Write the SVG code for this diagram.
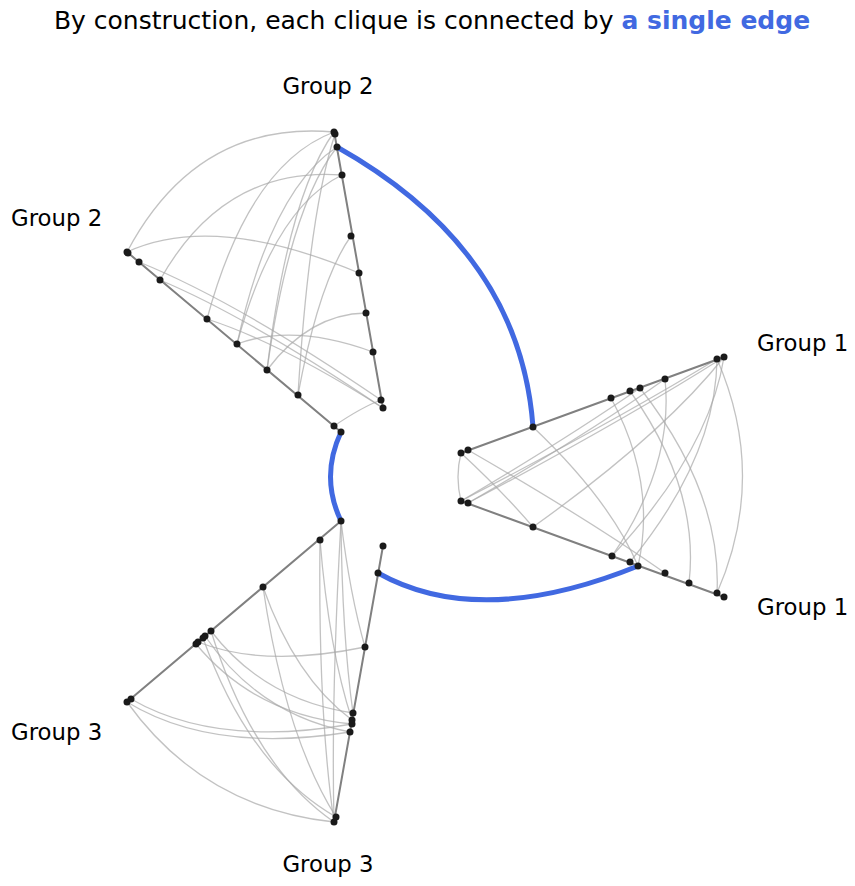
<svg xmlns="http://www.w3.org/2000/svg" width="855" height="886" viewBox="0 0 855 886">
<style>
text{font-family:"DejaVu Sans",sans-serif;font-size:22.8px;fill:#000}
.axis{stroke:#808080;stroke-width:2;fill:none}
.e{stroke:#a8a8a8;stroke-opacity:0.7;stroke-width:1.3;fill:none}
.b{stroke:#4169e1;stroke-width:5;fill:none}
.n circle{fill:#1a1a1a}
</style>
<rect width="855" height="886" fill="#fff"/>
<text x="432" y="29" text-anchor="middle" style="font-size:25px">By construction, each clique is connected by <tspan fill="#4169e1" font-weight="bold">a single edge</tspan></text>
<g id="edges">
<path class="e" d="M334,132Q197,120 127,252"/><path class="e" d="M334,132Q249,164 207,319"/><path class="e" d="M334,132Q288,197 267,370"/><path class="e" d="M335,134Q309,214 298,395"/><path class="e" d="M337,147Q271,190 237,344"/><path class="e" d="M342,175Q224,166 160,280"/><path class="e" d="M383,408Q281,343 207,319"/><path class="e" d="M381,400Q236,301 139,262"/><path class="e" d="M373,352Q294,323 237,344"/><path class="e" d="M366,313Q309,314 267,370"/><path class="e" d="M359,273Q214,212 127,252"/><path class="e" d="M383,408Q250,318 160,280"/><path class="e" d="M351,236Q319,281 298,395"/><path class="e" d="M381,400Q362,407 334,426"/><path class="e" d="M337,147Q290,207 267,370"/><path class="e" d="M342,175Q274,208 237,344"/>
<path class="e" d="M717,359Q768,476 717,593"/><path class="e" d="M724,357Q623,421 468,503"/><path class="e" d="M717,359Q615,421 461,501"/><path class="e" d="M665,379Q588,434 468,503"/><path class="e" d="M640,388Q568,438 461,501"/><path class="e" d="M717,359Q716,457 630,562"/><path class="e" d="M611,398Q657,483 638,566"/><path class="e" d="M468,450Q588,519 665,573"/><path class="e" d="M461,453Q504,493 533,527"/><path class="e" d="M724,357Q662,435 533,527"/><path class="e" d="M630,391Q700,489 689,583"/><path class="e" d="M665,379Q674,466 612,556"/><path class="e" d="M533,427Q610,500 638,566"/><path class="e" d="M461,453Q455,477 461,501"/><path class="e" d="M724,357Q709,452 612,556"/><path class="e" d="M640,388Q722,493 717,593"/>
<path class="e" d="M341,521Q331,700 334,822"/><path class="e" d="M320,540Q329,650 352,720"/><path class="e" d="M263,587Q285,736 336,817"/><path class="e" d="M211,631Q264,700 353,713"/><path class="e" d="M205,636Q259,715 350,732"/><path class="e" d="M198,642Q264,668 365,647"/><path class="e" d="M131,699Q216,748 352,724"/><path class="e" d="M127,702Q203,808 334,822"/><path class="e" d="M263,587Q295,678 352,720"/><path class="e" d="M320,540Q318,711 334,822"/><path class="e" d="M203,638Q249,767 336,817"/><path class="e" d="M341,521Q350,595 365,647"/><path class="e" d="M196,644Q255,715 352,724"/><path class="e" d="M127,702Q212,754 350,732"/><path class="e" d="M211,631Q253,766 334,822"/><path class="e" d="M341,521Q342,634 353,713"/>
<path class="axis" d="M334,131L383,408M127,252L341,432M461,453L724,357M461,501L724,597M341,521L127,702M383,546L334,822"/>
<path class="b" d="M337,147Q520,250 533,427"/><path class="b" d="M341,432Q320,477 341,521"/><path class="b" d="M378,573Q480,630 638,566"/>
</g>
<g id="group2a" class="n"><circle cx="334" cy="132" r="3.5"/><circle cx="335" cy="134" r="3.5"/><circle cx="337" cy="147" r="3.5"/><circle cx="342" cy="175" r="3.5"/><circle cx="351" cy="236" r="3.5"/><circle cx="359" cy="273" r="3.5"/><circle cx="366" cy="313" r="3.5"/><circle cx="373" cy="352" r="3.5"/><circle cx="381" cy="400" r="3.5"/><circle cx="383" cy="408" r="3.5"/></g>
<g id="group2b" class="n"><circle cx="127" cy="252" r="3.5"/><circle cx="128" cy="253" r="3.5"/><circle cx="139" cy="262" r="3.5"/><circle cx="160" cy="280" r="3.5"/><circle cx="207" cy="319" r="3.5"/><circle cx="237" cy="344" r="3.5"/><circle cx="267" cy="370" r="3.5"/><circle cx="298" cy="395" r="3.5"/><circle cx="334" cy="426" r="3.5"/><circle cx="341" cy="432" r="3.5"/></g>
<g id="group1a" class="n"><circle cx="461" cy="453" r="3.5"/><circle cx="468" cy="450" r="3.5"/><circle cx="533" cy="427" r="3.5"/><circle cx="611" cy="398" r="3.5"/><circle cx="630" cy="391" r="3.5"/><circle cx="640" cy="388" r="3.5"/><circle cx="665" cy="379" r="3.5"/><circle cx="717" cy="359" r="3.5"/><circle cx="724" cy="357" r="3.5"/></g>
<g id="group1b" class="n"><circle cx="461" cy="501" r="3.5"/><circle cx="468" cy="503" r="3.5"/><circle cx="533" cy="527" r="3.5"/><circle cx="612" cy="556" r="3.5"/><circle cx="630" cy="562" r="3.5"/><circle cx="638" cy="566" r="3.5"/><circle cx="665" cy="573" r="3.5"/><circle cx="689" cy="583" r="3.5"/><circle cx="717" cy="593" r="3.5"/><circle cx="724" cy="597" r="3.5"/></g>
<g id="group3a" class="n"><circle cx="341" cy="521" r="3.5"/><circle cx="320" cy="540" r="3.5"/><circle cx="263" cy="587" r="3.5"/><circle cx="211" cy="631" r="3.5"/><circle cx="205" cy="636" r="3.5"/><circle cx="203" cy="638" r="3.5"/><circle cx="198" cy="642" r="3.5"/><circle cx="196" cy="644" r="3.5"/><circle cx="131" cy="699" r="3.5"/><circle cx="127" cy="702" r="3.5"/></g>
<g id="group3b" class="n"><circle cx="383" cy="546" r="3.5"/><circle cx="378" cy="573" r="3.5"/><circle cx="365" cy="647" r="3.5"/><circle cx="353" cy="713" r="3.5"/><circle cx="352" cy="720" r="3.5"/><circle cx="352" cy="724" r="3.5"/><circle cx="350" cy="732" r="3.5"/><circle cx="336" cy="817" r="3.5"/><circle cx="334" cy="822" r="3.5"/></g>
<g id="labels">
<text x="328" y="94" text-anchor="middle">Group 2</text><text x="11" y="226">Group 2</text>
<text x="757" y="351">Group 1</text><text x="757" y="615">Group 1</text>
<text x="11" y="740">Group 3</text><text x="328" y="872" text-anchor="middle">Group 3</text>
</g>
</svg>
